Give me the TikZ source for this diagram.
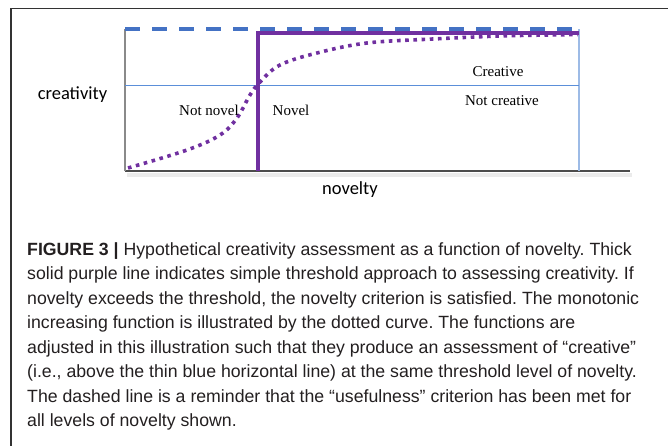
\documentclass[tikz,border=0pt]{standalone}
\usepackage{fontspec}
\setmainfont{Liberation Serif}
\newfontfamily\calfont{Carlito}
\newfontfamily\capfont{Liberation Sans}
\definecolor{dashblue}{HTML}{4472C4}
\definecolor{purp}{HTML}{7030A0}
\definecolor{thinblue}{HTML}{5B8FD9}
\definecolor{rightblue}{HTML}{9DBBE6}
\definecolor{axisgray}{HTML}{8A8A8A}
\definecolor{captext}{HTML}{231F20}
\begin{document}
\frenchspacing
\begin{tikzpicture}[x=1pt,y=-1pt,
  capline/.style={anchor=base west,inner sep=0pt,font=\capfont\fontsize{17.7}{20}\selectfont,text=captext},
  serlabel/.style={inner sep=0pt,font=\fontsize{15}{18}\selectfont,text=black},
  axlabel/.style={inner sep=0pt,font=\calfont\fontsize{18.5}{22}\selectfont,text=black}]
\useasboundingbox (0,0) rectangle (668,446);
% frame
\draw[line width=1.3pt,color=black!80] (11,446) -- (11,8.5) -- (668,8.5);
% coordinates
\coordinate (o) at (125,171);
\coordinate (tl) at (125,29);
\coordinate (tr) at (579,29);
\coordinate (br) at (579,171);
\coordinate (axend) at (630,171);
\coordinate (ml) at (125,86);
\coordinate (mr) at (579,86);
\coordinate (tb) at (258,171);
\coordinate (tt) at (258,33);
\coordinate (te) at (579,33);
% bottom axis shadow
\fill[black!8] (127,173) rectangle (632,177);
\draw[line width=1.5pt,color=black!70] (o) -- (axend);
\draw[line width=1.5pt,color=axisgray] (o) -- (tl);
\draw[line width=1.5pt,color=rightblue] (br) -- (tr);
\draw[line width=1pt,color=thinblue] (ml) -- (mr);
% dashed usefulness line
\draw[line width=4pt,color=dashblue,dash pattern=on 15pt off 12pt] (tl) -- (tr);
% threshold line
\draw[line width=4pt,color=purp] (tb) -- (tt) -- (te);
% dotted curve
\draw[line width=3.6pt,color=purp,dash pattern=on 3.6pt off 4.6pt] plot[smooth,tension=0.6] coordinates {
 (128,168) (187,150) (220,135) (237,118) (250,95) (260,82) (280,65) (317,53) (367,43) (433,39) (500,36) (550,35) (578,34.5)};
% labels
\node[axlabel] (cre) at (72.5,95) {creativity};
\node[axlabel] (nov) at (350,190) {novelty};
\node[serlabel] (nn) at (209,110) {Not novel};
\node[serlabel] (nv) at (291,110) {Novel};
\node[serlabel] (cr) at (498,72) {Creative};
\node[serlabel] (nc) at (502,101) {Not creative};
% caption
\node[capline] (c1) at (27,255) {\textbf{FIGURE 3 |} Hypothetical creativity assessment as a function of novelty. Thick};
\node[capline] (c2) at (27,279.5) {solid purple line indicates simple threshold approach to assessing creativity. If};
\node[capline] (c3) at (27,304) {novelty exceeds the threshold, the novelty criterion is satisfied. The monotonic};
\node[capline] (c4) at (27,328.5) {increasing function is illustrated by the dotted curve. The functions are};
\node[capline] (c5) at (27,353) {adjusted in this illustration such that they produce an assessment of “creative”};
\node[capline] (c6) at (27,377.5) {(i.e., above the thin blue horizontal line) at the same threshold level of novelty.};
\node[capline] (c7) at (27,402) {The dashed line is a reminder that the “usefulness” criterion has been met for};
\node[capline] (c8) at (27,426.5) {all levels of novelty shown.};
\end{tikzpicture}
\end{document}
